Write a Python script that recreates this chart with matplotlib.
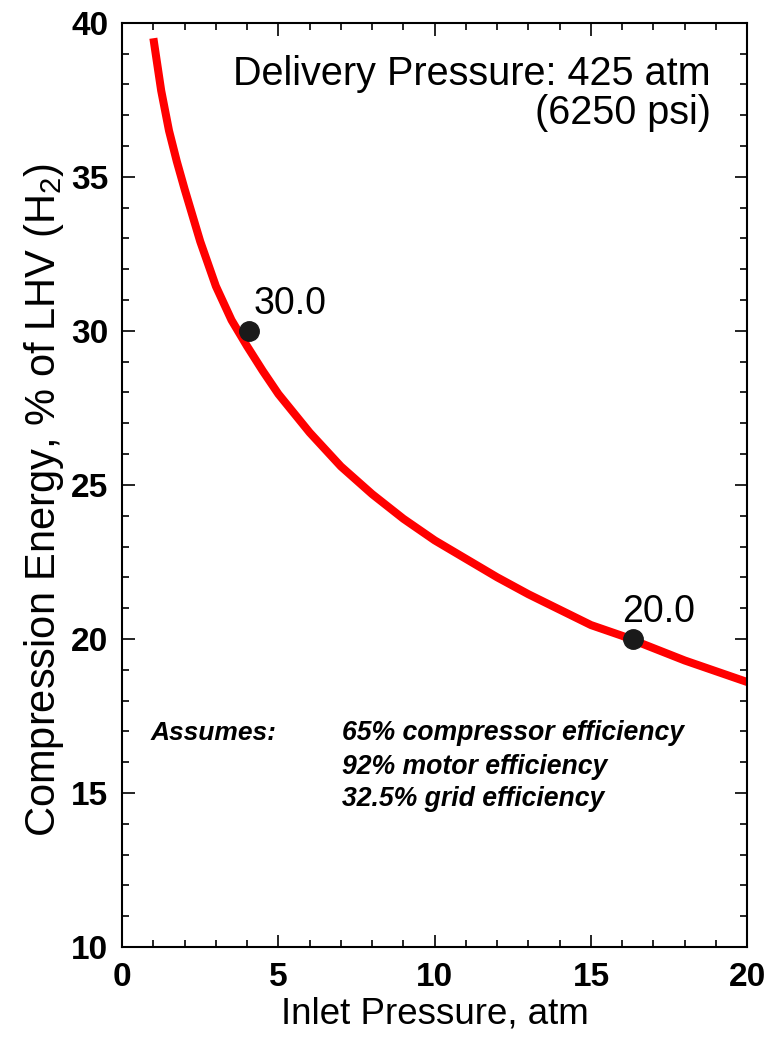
import matplotlib
matplotlib.use("Agg")
from matplotlib import pyplot as plt
from matplotlib.ticker import MultipleLocator

plt.rcParams["font.family"] = ["Liberation Sans", "DejaVu Sans"]
plt.rcParams["mathtext.fontset"] = "custom"
plt.rcParams["mathtext.rm"] = "Liberation Sans"

# values
inlet_p = [1.0, 1.25, 1.5, 1.75, 2.0, 2.5, 3.0, 3.5, 4.0, 4.5, 5.0, 6.0, 7.0, 8.0,
           9.0, 10.0, 11.0, 12.0, 13.0, 14.0, 15.0, 16.0, 17.0, 18.0, 19.0, 20.0]
energy = [39.5, 37.8, 36.5, 35.5, 34.6, 32.9, 31.45, 30.35, 29.5, 28.7, 27.95, 26.7,
          25.6, 24.7, 23.9, 23.2, 22.6, 22.0, 21.45, 20.95, 20.45, 20.1, 19.7, 19.3,
          18.95, 18.6]

# labelled points
pt_x = [4.05, 16.35]
pt_y = [30.0, 20.0]
pt_labels = ["30.0", "20.0"]
pt_dx = [0.15, -0.35]

notes = ["65% compressor efficiency", "92% motor efficiency", "32.5% grid efficiency"]
note_y = [16.95, 15.85, 14.8]

fig = plt.figure(figsize=(7.68, 10.38), dpi=100)
ax = fig.add_axes([0.159, 0.0877, 0.814, 0.8903])

ax.plot(inlet_p, energy, color="#ff0000", lw=5.8, solid_capstyle="butt", zorder=2)
ax.plot(pt_x, pt_y, "o", color="#1a1a1a", ms=14, zorder=3)
for x, y, s, dx in zip(pt_x, pt_y, pt_labels, pt_dx):
    ax.text(x + dx, y + 0.3, s, fontsize=27, ha="left", va="bottom")

ax.set_xlim(0, 20)
ax.set_ylim(10, 40)
ax.xaxis.set_major_locator(MultipleLocator(5))
ax.xaxis.set_minor_locator(MultipleLocator(1))
ax.yaxis.set_major_locator(MultipleLocator(5))
ax.yaxis.set_minor_locator(MultipleLocator(1))
ax.tick_params(which="both", direction="in", top=True, right=True, width=1.2)
ax.tick_params(which="major", length=9)
ax.tick_params(which="minor", length=5)
ax.tick_params(axis="x", which="major", pad=11, labelsize=24)
ax.tick_params(axis="y", which="major", pad=10, labelsize=24)
for lab in ax.get_xticklabels() + ax.get_yticklabels():
    lab.set_fontweight("bold")
for sp in ax.spines.values():
    sp.set_linewidth(1.5)

ax.set_xlabel("Inlet Pressure, atm", fontsize=26.5, labelpad=2)
ax.set_ylabel("Compression Energy, % of LHV (H$_2$)", fontsize=30)
ax.yaxis.set_label_coords(-0.09, 0.484)

ax.text(0.942, 0.965, "Delivery Pressure: 425 atm\n(6250 psi)", transform=ax.transAxes,
        fontsize=28.5, ha="right", va="top", multialignment="right", linespacing=1.02)

ax.text(0.9, note_y[0], "Assumes:", fontsize=19, fontweight="bold",
        fontstyle="italic", va="center")
for s, y in zip(notes, note_y):
    ax.text(7.05, y, s, fontsize=19.2, fontweight="bold", fontstyle="italic", va="center")

fig.savefig("out.png", dpi=100)
